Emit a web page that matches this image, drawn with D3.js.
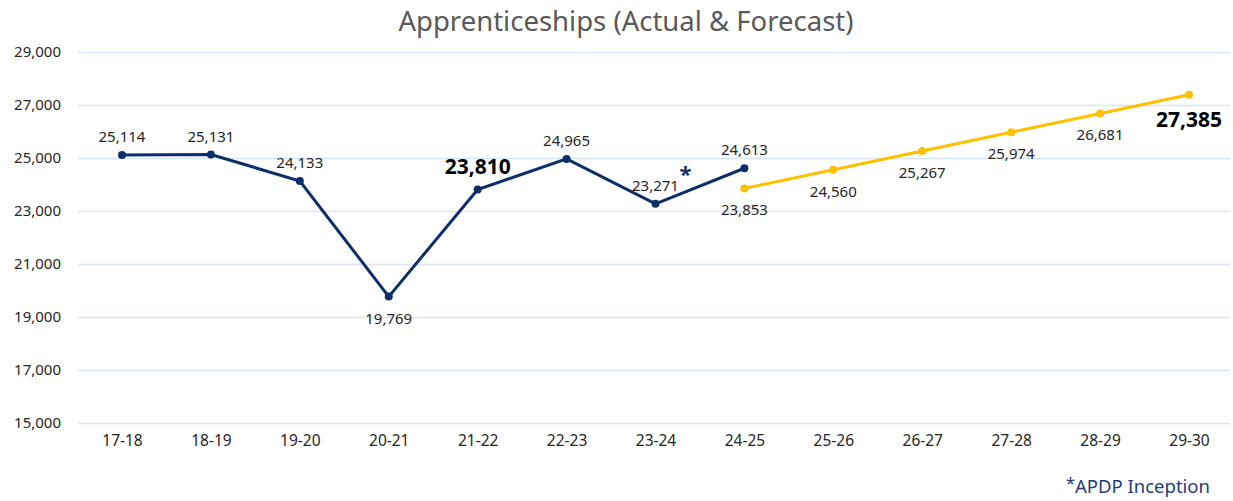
<!DOCTYPE html>
<meta charset="utf-8">
<script src="https://d3js.org/d3.v7.min.js"></script>
<style>
  body { margin: 0; background: #fff; }
  text { font-family: "Noto Sans", "Open Sans", sans-serif; }
</style>
<div id="chart"></div>
<script>
// categories and values
var years = ["17-18","18-19","19-20","20-21","21-22","22-23","23-24","24-25","25-26","26-27","27-28","28-29","29-30"];
var actualYears = ["17-18","18-19","19-20","20-21","21-22","22-23","23-24","24-25"];
var actual = [25114, 25131, 24133, 19769, 23810, 24965, 23271, 24613];
var forecastYears = ["24-25","25-26","26-27","27-28","28-29","29-30"];
var forecast = [23853, 24560, 25267, 25974, 26681, 27385];
var yTicks = [15000, 17000, 19000, 21000, 23000, 25000, 27000, 29000];

// label placement: "a" above, "b" below
var actualPos = ["a","a","a","b","a","a","a","a"];
var forecastPos = ["b","b","b","b","b","b"];
var boldActual = "21-22", boldForecast = "29-30";

var W = 1233, H = 501;
var margin = {top: 52, right: 3, bottom: 78, left: 78};

var svg = d3.select("#chart").append("svg")
  .attr("width", W).attr("height", H);

var x = d3.scalePoint()
  .domain(years)
  .range([122, 1189]);

var y = d3.scaleLinear()
  .domain([15000, 29000])
  .range([H - margin.bottom, margin.top]);

// title
svg.append("text")
  .attr("x", 626).attr("y", 31)
  .attr("text-anchor", "middle")
  .style("font-size", "27.5px")
  .style("fill", "#595959")
  .text("Apprenticeships (Actual & Forecast)");

// gridlines + y axis labels
var yAxis = d3.axisLeft(y)
  .tickValues(yTicks)
  .tickSize(-(W - margin.left - margin.right))
  .tickFormat(d3.format(","))
  .tickPadding(17);
var gy = svg.append("g")
  .attr("transform", "translate(" + margin.left + ",0)")
  .call(yAxis);
gy.select(".domain").remove();
gy.selectAll("line").attr("stroke", "#d6e6f8").attr("stroke-width", 1.3);
gy.selectAll("text").style("font-size", "15px").style("fill", "#262626");

// x axis labels
var xAxis = d3.axisBottom(x).tickSize(0).tickPadding(12);
var gx = svg.append("g")
  .attr("transform", "translate(0," + (H - margin.bottom) + ")")
  .call(xAxis);
gx.select(".domain").remove();
gx.selectAll("text").style("font-size", "15.5px").style("fill", "#262626");

var line = d3.line()
  .x(function(d) { return x(d.year); })
  .y(function(d) { return y(d.value); });

function drawSeries(yrs, vals, pos, color, boldYear) {
  var data = yrs.map(function(yr, i) { return {year: yr, value: vals[i], pos: pos[i]}; });
  svg.append("path")
    .datum(data)
    .attr("d", line)
    .attr("fill", "none")
    .attr("stroke", color)
    .attr("stroke-width", 3);
  svg.selectAll(null)
    .data(data)
    .enter().append("circle")
    .attr("cx", function(d) { return x(d.year); })
    .attr("cy", function(d) { return y(d.value); })
    .attr("r", 4)
    .attr("fill", color);
  svg.selectAll(null)
    .data(data)
    .enter().append("text")
    .attr("x", function(d) { return x(d.year); })
    .attr("y", function(d) {
      var bold = d.year === boldYear;
      if (d.pos === "a") return y(d.value) - (bold ? 16 : 13);
      return y(d.value) + (bold ? 32 : 27);
    })
    .attr("text-anchor", "middle")
    .style("font-size", function(d) { return d.year === boldYear ? "21px" : "15px"; })
    .style("font-weight", function(d) { return d.year === boldYear ? "bold" : "normal"; })
    .style("fill", function(d) { return d.year === boldYear ? "#000" : "#262626"; })
    .text(function(d) { return d3.format(",")(d.value); });
}

drawSeries(actualYears, actual, actualPos, "#0c2f6b", boldActual);
drawSeries(forecastYears, forecast, forecastPos, "#ffc000", boldForecast);

// inception marker next to 23-24
svg.append("text")
  .attr("x", x("23-24") + 30)
  .attr("y", y(23271) - 22)
  .attr("text-anchor", "middle")
  .style("font-size", "22px")
  .style("font-weight", "bold")
  .style("fill", "#0c2f6b")
  .text("*");

// footnote
var foot = svg.append("text")
  .attr("x", 1210).attr("y", 493)
  .attr("text-anchor", "end")
  .style("font-size", "18.5px")
  .style("fill", "#1f3d7a");
foot.append("tspan").attr("dy", "-4").style("font-size", "17px").text("*");
foot.append("tspan").attr("dy", "4").text("APDP Inception");
</script>
